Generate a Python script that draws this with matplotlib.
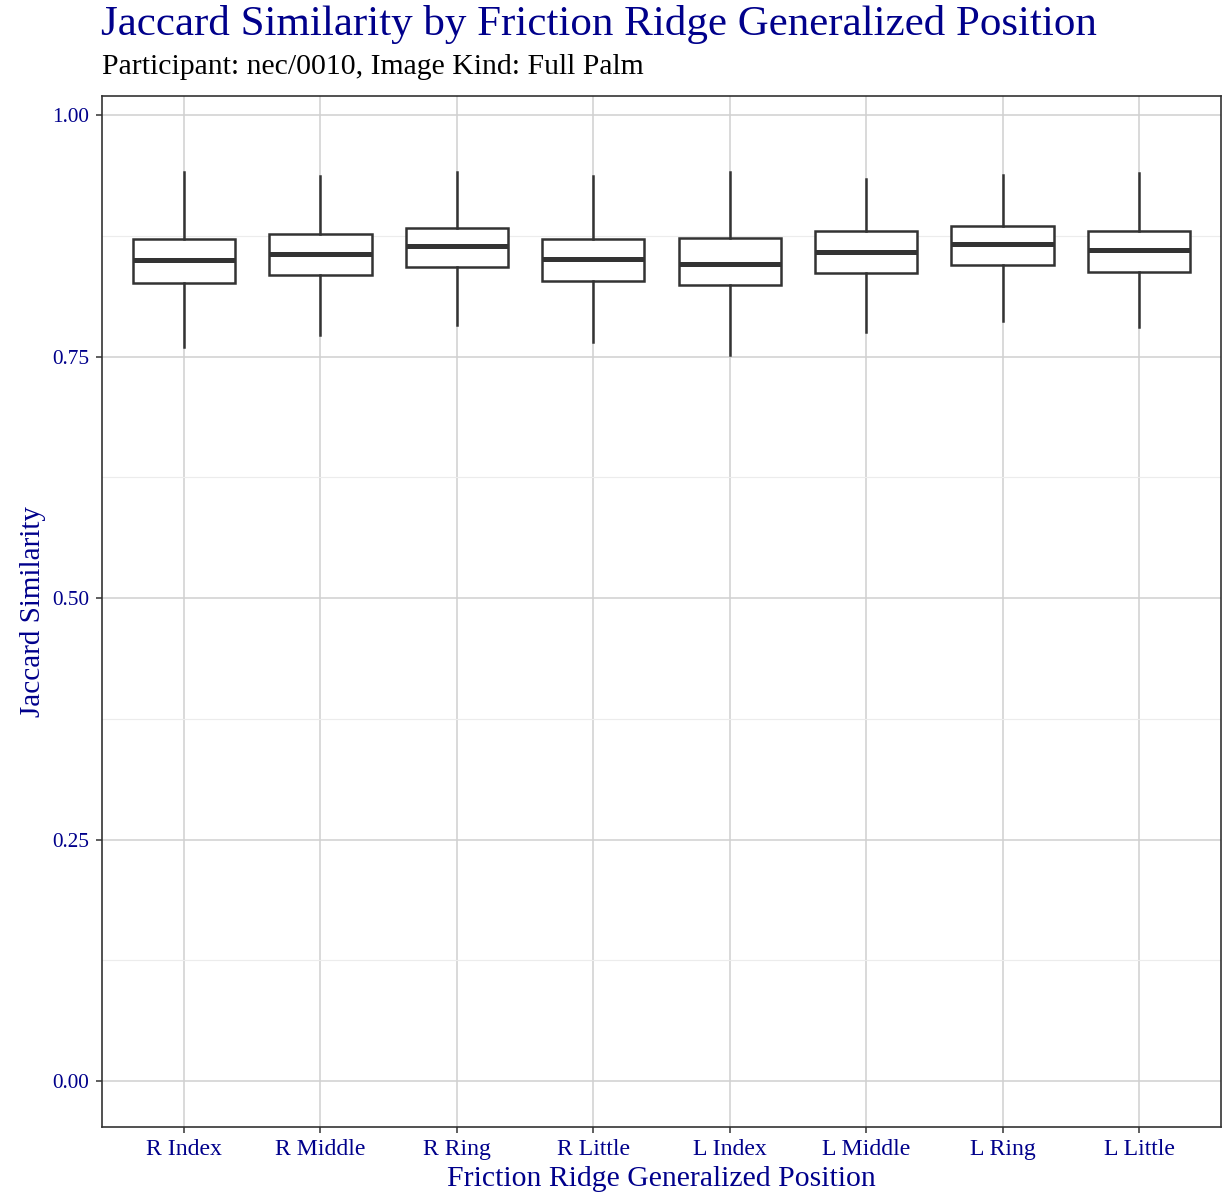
import matplotlib
matplotlib.use("Agg")
import matplotlib.pyplot as plt
from matplotlib.ticker import FixedLocator

categories = ["R Index", "R Middle", "R Ring", "R Little",
              "L Index", "L Middle", "L Ring", "L Little"]
whisker_low = [0.760, 0.772, 0.783, 0.765, 0.752, 0.775, 0.787, 0.781]
q1 = [0.826, 0.834, 0.843, 0.828, 0.824, 0.836, 0.845, 0.837]
median = [0.850, 0.856, 0.864, 0.851, 0.846, 0.858, 0.866, 0.860]
q3 = [0.872, 0.877, 0.883, 0.872, 0.873, 0.880, 0.885, 0.880]
whisker_high = [0.941, 0.937, 0.941, 0.937, 0.941, 0.934, 0.938, 0.940]
y_ticks = [0.00, 0.25, 0.50, 0.75, 1.00]
y_tick_labels = ["0.00", "0.25", "0.50", "0.75", "1.00"]

W, H = 1222, 1197
fig = plt.figure(figsize=(W / 100, H / 100), dpi=100)
ax = fig.add_axes([102 / W, 1 - 1127 / H, (1221 - 102) / W, (1127 - 96) / H])

FONT = "Liberation Serif"
BLUE = "#00008B"
DARK = "#333333"

stats = []
for i, c in enumerate(categories):
    stats.append(dict(label=c, whislo=whisker_low[i], q1=q1[i], med=median[i],
                      q3=q3[i], whishi=whisker_high[i], fliers=[]))
positions = list(range(1, len(categories) + 1))
ax.bxp(stats, positions=positions, widths=0.75, showfliers=False, showcaps=False,
       patch_artist=True,
       boxprops=dict(facecolor="white", edgecolor=DARK, linewidth=1.8),
       medianprops=dict(color=DARK, linewidth=3.6, solid_capstyle="butt"),
       whiskerprops=dict(color=DARK, linewidth=1.8))

ax.set_xlim(0.4, len(categories) + 0.6)
ax.set_ylim(-0.0476, 1.0197)
ax.yaxis.set_major_locator(FixedLocator(y_ticks))
ax.yaxis.set_minor_locator(FixedLocator([0.125, 0.375, 0.625, 0.875]))
ax.set_yticklabels(y_tick_labels)
ax.set_xticks(positions)
ax.set_xticklabels(categories)

ax.grid(True, which="major", color="#d0d0d0", linewidth=1.1)
ax.grid(True, which="minor", axis="y", color="#ececec", linewidth=0.8)
ax.set_axisbelow(True)
for s in ax.spines.values():
    s.set_color(DARK)
    s.set_linewidth(1.2)
ax.tick_params(axis="both", which="major", length=4.3, width=1.1, color=DARK,
               labelcolor=BLUE)
ax.tick_params(axis="x", which="major", pad=4.5)
ax.tick_params(axis="y", which="major", pad=5)
ax.tick_params(axis="y", which="minor", length=0)

for lab in ax.get_xticklabels() + ax.get_yticklabels():
    lab.set_fontfamily(FONT)

title = fig.text(101 / W, 1 - 35 / H, "Jaccard Similarity by Friction Ridge Generalized Position",
                 family=FONT, color=BLUE, fontsize=26, ha="left", va="baseline")
subtitle = fig.text(102 / W, 1 - 74 / H, "Participant: nec/0010, Image Kind: Full Palm",
                    family=FONT, color="black", fontsize=17, ha="left", va="baseline")
xlab = fig.text(661.5 / W, 1 - 1186.5 / H, "Friction Ridge Generalized Position",
                family=FONT, color=BLUE, fontsize=18, ha="center", va="baseline")
ylab = fig.text(33 / W, 1 - 611.5 / H, "Jaccard Similarity", family=FONT, color=BLUE,
                fontsize=18, rotation=90, ha="center", va="center")

renderer = fig.canvas.get_renderer()

def fit(t, target, vertical=False):
    bb = t.get_window_extent(renderer)
    cur = bb.height if vertical else bb.width
    t.set_fontsize(t.get_fontsize() * target / cur)

fit(title, 997)
fit(subtitle, 542)
fit(xlab, 429)
fit(ylab, 211, vertical=True)

xl = ax.get_xticklabels()
w = xl[0].get_window_extent(renderer).width
fs = xl[0].get_fontsize() * 76 / w
for lab in xl:
    lab.set_fontsize(fs)
yl = ax.get_yticklabels()
w = yl[-1].get_window_extent(renderer).width
fs = yl[-1].get_fontsize() * 37 / w
for lab in yl:
    lab.set_fontsize(fs)

fig.savefig("out.png", dpi=100, facecolor="white")
